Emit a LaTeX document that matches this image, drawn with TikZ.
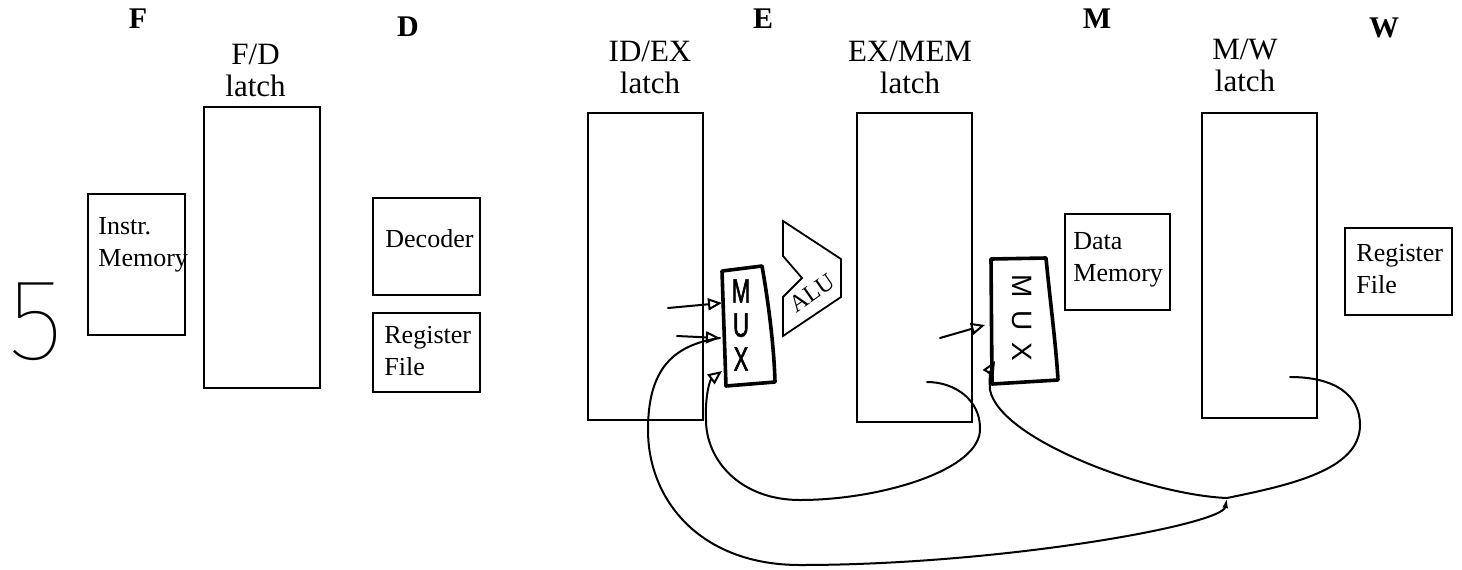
\documentclass[tikz,border=0pt]{standalone}
\usepackage{fontspec}
\setmainfont{Liberation Serif}
\setsansfont{Liberation Sans}
\newfontfamily\handfont{Liberation Sans}[FakeStretch=0.65,FakeBold=1.5]
\newfontfamily\thinfont{Fira Sans Thin}
\usetikzlibrary{positioning,fit,calc,arrows.meta}

\begin{document}
\begin{tikzpicture}[x=0.5pt,y=-0.5pt,
  blk/.style={draw,line width=0.9pt,inner sep=0pt,outer sep=0pt},
  boxtxt/.style={inner sep=0pt,anchor=north west,align=left,font=\fontsize{13}{16}\selectfont},
  latchtxt/.style={inner sep=0pt,anchor=north,align=center,font=\fontsize{15.5}{16}\selectfont},
  stage/.style={inner sep=0pt,anchor=base,font=\fontsize{15}{16}\selectfont\bfseries},
  hand/.style={line width=1pt,line cap=round,line join=round},
  arr/.style={-{Triangle[open,length=7pt,width=6pt]}},
  muxline/.style={line width=1.8pt,line join=round}]
  \path[use as bounding box,fill=white] (0,0) rectangle (1462,569);

  \node[stage] (sf) at (138,28) {F};
  \node[stage] (sd) at (408,36) {D};
  \node[stage] (se) at (763,28) {E};
  \node[stage] (sm) at (1097,28) {M};
  \node[stage] (sw) at (1384,37) {W};

  \node[latchtxt,anchor=north west] (fdtxt) at (225,44) {F/D\\latch};
  \node[latchtxt] (idextxt) at (650,41) {ID/EX\\latch};
  \node[latchtxt] (exmemtxt) at (910,41) {EX/MEM\\latch};
  \node[latchtxt] (mwtxt) at (1245,39) {M/W\\latch};

  \node[blk,fit={(88,194) (185,335)}] (imem) {};
  \node[boxtxt] (imemtxt) at ([shift={(10,23)}]imem.north west) {Instr.\\Memory};
  \node[blk,fit={(204,107) (320,388)}] (fdl) {};
  \node[blk,fit={(373,198) (480,295)}] (dec) {};
  \node[boxtxt] (dectxt) at ([shift={(12,31)}]dec.north west) {Decoder};
  \node[blk,fit={(373,313) (480,392)}] (rfd) {};
  \node[boxtxt] (rfdtxt) at ([shift={(11,13)}]rfd.north west) {Register\\File};
  \node[blk,fit={(588,113) (703,420)}] (idex) {};
  \node[blk,fit={(857,113) (972,422)}] (exmem) {};
  \node[blk,fit={(1065,214) (1170,310)}] (dmem) {};
  \node[boxtxt] (dmemtxt) at ([shift={(8,18)}]dmem.north west) {Data\\Memory};
  \node[blk,fit={(1202,113) (1317,418)}] (mwl) {};
  \node[blk,fit={(1345,228) (1452,315)}] (rfw) {};
  \node[boxtxt] (rfwtxt) at ([shift={(11,16)}]rfw.north west) {Register\\File};

  \draw[line width=0.9pt,line join=miter] (783,221) -- (841,259) -- (841,297) -- (783,336) -- (783,297) -- (802,278) -- (783,256) -- cycle;
  \node[rotate=35,inner sep=0pt,font=\fontsize{12}{14}\selectfont] (alu) at (812,293) {ALU};

  \draw[muxline] (722,271) -- (762,266) .. controls (768,300) and (774,345) .. (775,382) -- (726,386) -- cycle;
  \node[align=center,inner sep=0pt,font=\handfont\fontsize{17}{17}\selectfont] (muxa) at (741,325) {M\\U\\X};
  \draw[muxline] (991,259) -- (1046,258) .. controls (1050,300) and (1056,345) .. (1058,380) -- (992,384) -- cycle;
  \node[rotate=-90,inner sep=0pt,font=\sffamily\fontsize{14}{16}\selectfont] (muxb) at (1022,318) {M\kern6pt U\kern6pt X};

  \node[inner sep=0pt,font=\thinfont\fontsize{58}{60}\selectfont] (five) at (36,322) {5};

  \coordinate (idexa) at (668,308);
  \coordinate (idexb) at (677,336);
  \coordinate (muxaa) at (722,303);
  \coordinate (muxab) at (720,338);
  \coordinate (muxac) at (722,371);
  \coordinate (exmemo) at (927,382);
  \coordinate (exmemb) at (940,338);
  \coordinate (muxba) at (985,325);
  \coordinate (muxbb) at (995,361);
  \coordinate (mwo) at (1290,377);
  \coordinate (jn) at (1227,498);

  \draw[hand,arr] (idexa) -- (muxaa);
  \draw[hand,arr] (idexb) -- (muxab);
  \draw[hand,arr] (exmemb) -- (muxba);
  \draw[hand,arr] (exmemo) .. controls (955,382) and (980,400) .. (980,428)
    .. controls (982,470) and (880,500) .. (800,500)
    .. controls (740,500) and (706,460) .. (706,420)
    .. controls (705,395) and (710,380) .. (muxac);
  \draw[hand,arr] (mwo) .. controls (1335,377) and (1360,395) .. (1360,425)
    .. controls (1360,470) and (1290,485) .. (jn)
    .. controls (1150,495) and (1000,440) .. (990,390)
    .. controls (989,378) and (991,368) .. (muxbb);
  \draw[hand,{Latex[length=5pt,width=3pt]}-] (jn) .. controls (1222,525) and (1000,565) .. (800,565)
    .. controls (700,565) and (648,500) .. (648,430)
    .. controls (648,370) and (672,345) .. (muxab);
\end{tikzpicture}
\end{document}
